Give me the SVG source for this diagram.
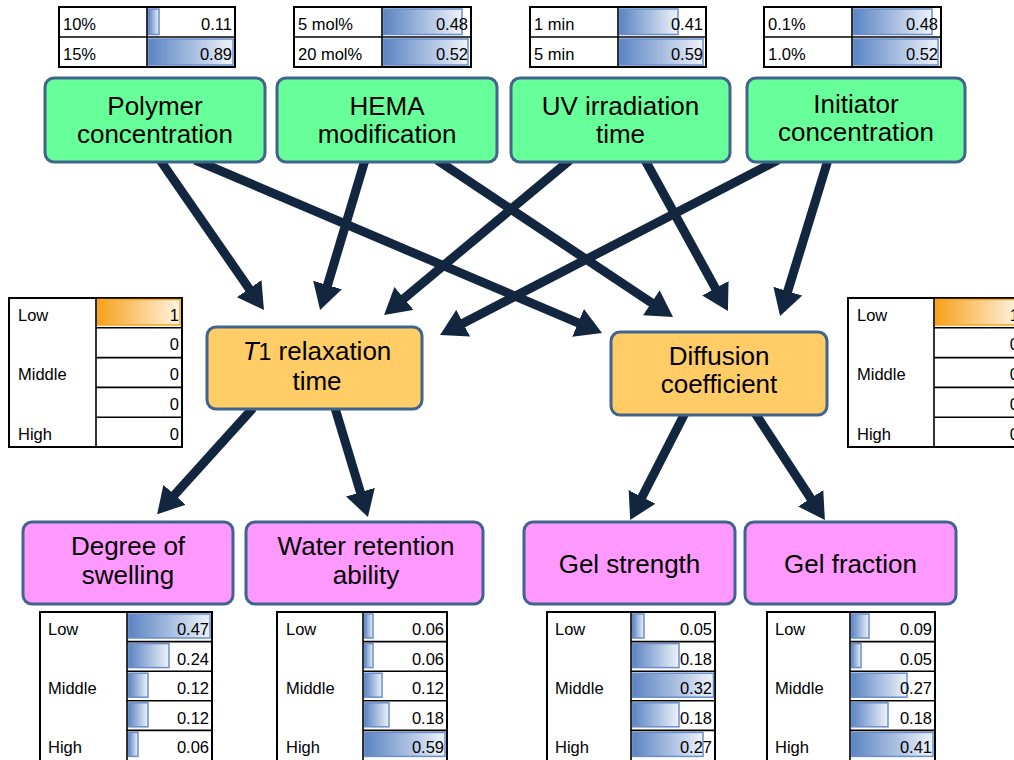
<svg xmlns="http://www.w3.org/2000/svg" width="1014" height="760" viewBox="0 0 1014 760">
<style>
.n rect{stroke:#41648F;stroke-width:3}
.g rect{fill:#66FF99}
.o rect{fill:#FFCC66}
.p rect{fill:#FF99FF}
.nt{font-family:"Liberation Sans",Arial,sans-serif;font-size:26px;fill:#000;text-anchor:middle}
.c line{stroke:#13263F;stroke-width:9;marker-end:url(#ah)}
.tb{fill:#fff;stroke:#000;stroke-width:2}
.gl{stroke:#000;stroke-width:1.6}
.bb{fill:url(#bg);stroke:#6A8FCB;stroke-width:1.5}
.ob{fill:url(#og);stroke:#F5A623;stroke-width:1.5}
.tt{font-family:"Liberation Sans",Arial,sans-serif;font-size:16.5px;fill:#000}
.tv{font-family:"Liberation Sans",Arial,sans-serif;font-size:16.5px;fill:#000;text-anchor:end}
</style>
<defs>
<linearGradient id="bg" x1="0" y1="0" x2="1" y2="0"><stop offset="0" stop-color="#5B84C3"/><stop offset="1" stop-color="#EEF3FA"/></linearGradient>
<linearGradient id="og" x1="0" y1="0" x2="1" y2="0"><stop offset="0" stop-color="#F7A11A"/><stop offset="1" stop-color="#FFF4E2"/></linearGradient>
<marker id="ah" markerUnits="userSpaceOnUse" markerWidth="26" markerHeight="30" viewBox="0 0 26 30" refX="11" refY="15" orient="auto"><path d="M0,0 L26,15 L0,30 z" fill="#13263F"/></marker>
</defs>

<g id="connectors" class="c">
<line x1="160" y1="160" x2="255.4" y2="297.7"/>
<line x1="195" y1="160" x2="588.2" y2="327.2"/>
<line x1="365" y1="160" x2="324.4" y2="295.6"/>
<line x1="437" y1="160" x2="660.5" y2="308.8"/>
<line x1="570" y1="160" x2="395.6" y2="305.5"/>
<line x1="645" y1="160" x2="720.7" y2="297.9"/>
<line x1="778" y1="160" x2="453.4" y2="328.2"/>
<line x1="828" y1="160" x2="784.5" y2="301.7"/>
<line x1="253" y1="408" x2="167.2" y2="503"/>
<line x1="335" y1="408" x2="363.6" y2="502.7"/>
<line x1="685" y1="413" x2="637" y2="506.7"/>
<line x1="755" y1="413" x2="816.7" y2="507.5"/>
</g>

<g id="node-polymer" class="n g"><rect x="45" y="78" width="220" height="84" rx="9"/><text class="nt" x="155" y="115">Polymer</text><text class="nt" x="155" y="143">concentration</text></g>
<g id="node-hema" class="n g"><rect x="277" y="78" width="220" height="84" rx="9"/><text class="nt" x="387" y="115">HEMA</text><text class="nt" x="387" y="143">modification</text></g>
<g id="node-uv" class="n g"><rect x="511" y="78" width="219" height="84" rx="9"/><text class="nt" x="620.5" y="115">UV irradiation</text><text class="nt" x="620.5" y="143">time</text></g>
<g id="node-initiator" class="n g"><rect x="747" y="78" width="218" height="84" rx="9"/><text class="nt" x="856" y="113">Initiator</text><text class="nt" x="856" y="141">concentration</text></g>

<g id="node-t1" class="n o"><rect x="207" y="327" width="215" height="82" rx="9"/><text class="nt" x="317" y="360"><tspan font-style="italic">T</tspan><tspan font-size="23">1</tspan> relaxation</text><text class="nt" x="317" y="390">time</text></g>
<g id="node-diffusion" class="n o"><rect x="611" y="332" width="216" height="83" rx="9"/><text class="nt" x="719" y="365">Diffusion</text><text class="nt" x="719" y="393">coefficient</text></g>

<g id="node-swelling" class="n p"><rect x="23" y="522" width="210" height="82" rx="9"/><text class="nt" x="128" y="555">Degree of</text><text class="nt" x="128" y="584">swelling</text></g>
<g id="node-water" class="n p"><rect x="246" y="522" width="237" height="82" rx="9"/><text class="nt" x="366" y="555">Water retention</text><text class="nt" x="366" y="584">ability</text></g>
<g id="node-gelstrength" class="n p"><rect x="524" y="522" width="211" height="82" rx="9"/><text class="nt" x="629.5" y="573">Gel strength</text></g>
<g id="node-gelfraction" class="n p"><rect x="745" y="522" width="211" height="82" rx="9"/><text class="nt" x="850.5" y="573">Gel fraction</text></g>

<!-- top tables -->
<g id="table-polymer">
<rect class="tb" x="59" y="7" width="176" height="60"/>
<rect class="bb" x="148.5" y="9" width="10.5" height="25.5"/>
<rect class="bb" x="148.5" y="39" width="84.5" height="26"/>
<line class="gl" x1="59" y1="37" x2="235" y2="37"/><line class="gl" x1="147" y1="7" x2="147" y2="67"/>
<text class="tt" x="63" y="29.5">10%</text><text class="tv" x="232" y="29.5">0.11</text>
<text class="tt" x="63" y="59.5">15%</text><text class="tv" x="232" y="59.5">0.89</text>
</g>
<g id="table-hema">
<rect class="tb" x="294" y="7" width="177" height="60"/>
<rect class="bb" x="383.5" y="9" width="78.5" height="25.5"/>
<rect class="bb" x="383.5" y="39" width="84.5" height="26"/>
<line class="gl" x1="294" y1="37" x2="471" y2="37"/><line class="gl" x1="382" y1="7" x2="382" y2="67"/>
<text class="tt" x="298" y="29.5">5 mol%</text><text class="tv" x="468" y="29.5">0.48</text>
<text class="tt" x="298" y="59.5">20 mol%</text><text class="tv" x="468" y="59.5">0.52</text>
</g>
<g id="table-uv">
<rect class="tb" x="530" y="7" width="176" height="60"/>
<rect class="bb" x="619.5" y="9" width="58.5" height="25.5"/>
<rect class="bb" x="619.5" y="39" width="83.5" height="26"/>
<line class="gl" x1="530" y1="37" x2="706" y2="37"/><line class="gl" x1="618" y1="7" x2="618" y2="67"/>
<text class="tt" x="534" y="29.5">1 min</text><text class="tv" x="703" y="29.5">0.41</text>
<text class="tt" x="534" y="59.5">5 min</text><text class="tv" x="703" y="59.5">0.59</text>
</g>
<g id="table-initiator">
<rect class="tb" x="764" y="7" width="177" height="60"/>
<rect class="bb" x="853.5" y="9" width="78.5" height="25.5"/>
<rect class="bb" x="853.5" y="39" width="84.5" height="26"/>
<line class="gl" x1="764" y1="37" x2="941" y2="37"/><line class="gl" x1="852" y1="7" x2="852" y2="67"/>
<text class="tt" x="768" y="29.5">0.1%</text><text class="tv" x="938" y="29.5">0.48</text>
<text class="tt" x="768" y="59.5">1.0%</text><text class="tv" x="938" y="59.5">0.52</text>
</g>

<!-- middle tables -->
<g id="table-t1">
<rect class="tb" x="9" y="298" width="173" height="149"/>
<rect class="ob" x="97.5" y="299.5" width="82.5" height="25.5"/>
<line class="gl" x1="96" y1="298" x2="96" y2="447"/>
<line class="gl" x1="96" y1="327.8" x2="182" y2="327.8"/><line class="gl" x1="96" y1="357.6" x2="182" y2="357.6"/><line class="gl" x1="96" y1="387.4" x2="182" y2="387.4"/><line class="gl" x1="96" y1="417.2" x2="182" y2="417.2"/>
<text class="tt" x="18" y="320.5">Low</text><text class="tt" x="18" y="380">Middle</text><text class="tt" x="18" y="439.7">High</text>
<text class="tv" x="179" y="320.5">1</text><text class="tv" x="179" y="350.3">0</text><text class="tv" x="179" y="380">0</text><text class="tv" x="179" y="409.9">0</text><text class="tv" x="179" y="439.7">0</text>
</g>
<g id="table-diffusion">
<rect class="tb" x="848" y="298" width="173" height="149"/>
<rect class="ob" x="935.5" y="299.5" width="83.5" height="25.5"/>
<line class="gl" x1="934" y1="298" x2="934" y2="447"/>
<line class="gl" x1="934" y1="327.8" x2="1021" y2="327.8"/><line class="gl" x1="934" y1="357.6" x2="1021" y2="357.6"/><line class="gl" x1="934" y1="387.4" x2="1021" y2="387.4"/><line class="gl" x1="934" y1="417.2" x2="1021" y2="417.2"/>
<text class="tt" x="857" y="320.5">Low</text><text class="tt" x="857" y="380">Middle</text><text class="tt" x="857" y="439.7">High</text>
<text class="tv" x="1019" y="320.5">1</text><text class="tv" x="1019" y="350.3">0</text><text class="tv" x="1019" y="380">0</text><text class="tv" x="1019" y="409.9">0</text><text class="tv" x="1019" y="439.7">0</text>
</g>

<!-- bottom tables -->
<g id="table-swelling">
<rect class="tb" x="40" y="612" width="172" height="152"/>
<rect class="bb" x="128.5" y="614" width="81.5" height="24"/>
<rect class="bb" x="128.5" y="643.6" width="40.5" height="24"/>
<rect class="bb" x="128.5" y="673.2" width="19.5" height="24"/>
<rect class="bb" x="128.5" y="702.8" width="19.5" height="24"/>
<rect class="bb" x="128.5" y="732.4" width="9.5" height="24"/>
<line class="gl" x1="127" y1="612" x2="127" y2="764"/>
<line class="gl" x1="127" y1="641.6" x2="212" y2="641.6"/><line class="gl" x1="127" y1="671.2" x2="212" y2="671.2"/><line class="gl" x1="127" y1="700.8" x2="212" y2="700.8"/><line class="gl" x1="127" y1="730.4" x2="212" y2="730.4"/>
<text class="tt" x="48" y="635">Low</text><text class="tt" x="48" y="694">Middle</text><text class="tt" x="48" y="753.2">High</text>
<text class="tv" x="209" y="635">0.47</text><text class="tv" x="209" y="664.6">0.24</text><text class="tv" x="209" y="694.2">0.12</text><text class="tv" x="209" y="723.8">0.12</text><text class="tv" x="209" y="753.4">0.06</text>
</g>
<g id="table-water">
<rect class="tb" x="277" y="612" width="170" height="152"/>
<rect class="bb" x="364.5" y="614" width="8.5" height="24"/>
<rect class="bb" x="364.5" y="643.6" width="8.5" height="24"/>
<rect class="bb" x="364.5" y="673.2" width="17.5" height="24"/>
<rect class="bb" x="364.5" y="702.8" width="24.5" height="24"/>
<rect class="bb" x="364.5" y="732.4" width="80.5" height="24"/>
<line class="gl" x1="363" y1="612" x2="363" y2="764"/>
<line class="gl" x1="363" y1="641.6" x2="447" y2="641.6"/><line class="gl" x1="363" y1="671.2" x2="447" y2="671.2"/><line class="gl" x1="363" y1="700.8" x2="447" y2="700.8"/><line class="gl" x1="363" y1="730.4" x2="447" y2="730.4"/>
<text class="tt" x="286" y="635">Low</text><text class="tt" x="286" y="694">Middle</text><text class="tt" x="286" y="753.2">High</text>
<text class="tv" x="444" y="635">0.06</text><text class="tv" x="444" y="664.6">0.06</text><text class="tv" x="444" y="694.2">0.12</text><text class="tv" x="444" y="723.8">0.18</text><text class="tv" x="444" y="753.4">0.59</text>
</g>
<g id="table-gelstrength">
<rect class="tb" x="547" y="612" width="168" height="152"/>
<rect class="bb" x="632.5" y="614" width="11.5" height="24"/>
<rect class="bb" x="632.5" y="643.6" width="46.5" height="24"/>
<rect class="bb" x="632.5" y="673.2" width="81" height="24"/>
<rect class="bb" x="632.5" y="702.8" width="46.5" height="24"/>
<rect class="bb" x="632.5" y="732.4" width="70.5" height="24"/>
<line class="gl" x1="631" y1="612" x2="631" y2="764"/>
<line class="gl" x1="631" y1="641.6" x2="715" y2="641.6"/><line class="gl" x1="631" y1="671.2" x2="715" y2="671.2"/><line class="gl" x1="631" y1="700.8" x2="715" y2="700.8"/><line class="gl" x1="631" y1="730.4" x2="715" y2="730.4"/>
<text class="tt" x="555" y="635">Low</text><text class="tt" x="555" y="694">Middle</text><text class="tt" x="555" y="753.2">High</text>
<text class="tv" x="712" y="635">0.05</text><text class="tv" x="712" y="664.6">0.18</text><text class="tv" x="712" y="694.2">0.32</text><text class="tv" x="712" y="723.8">0.18</text><text class="tv" x="712" y="753.4">0.27</text>
</g>
<g id="table-gelfraction">
<rect class="tb" x="767" y="612" width="168" height="152"/>
<rect class="bb" x="851.5" y="614" width="17.5" height="24"/>
<rect class="bb" x="851.5" y="643.6" width="9.5" height="24"/>
<rect class="bb" x="851.5" y="673.2" width="55.5" height="24"/>
<rect class="bb" x="851.5" y="702.8" width="36.5" height="24"/>
<rect class="bb" x="851.5" y="732.4" width="81.5" height="24"/>
<line class="gl" x1="850" y1="612" x2="850" y2="764"/>
<line class="gl" x1="850" y1="641.6" x2="935" y2="641.6"/><line class="gl" x1="850" y1="671.2" x2="935" y2="671.2"/><line class="gl" x1="850" y1="700.8" x2="935" y2="700.8"/><line class="gl" x1="850" y1="730.4" x2="935" y2="730.4"/>
<text class="tt" x="775" y="635">Low</text><text class="tt" x="775" y="694">Middle</text><text class="tt" x="775" y="753.2">High</text>
<text class="tv" x="932" y="635">0.09</text><text class="tv" x="932" y="664.6">0.05</text><text class="tv" x="932" y="694.2">0.27</text><text class="tv" x="932" y="723.8">0.18</text><text class="tv" x="932" y="753.4">0.41</text>
</g>
</svg>
